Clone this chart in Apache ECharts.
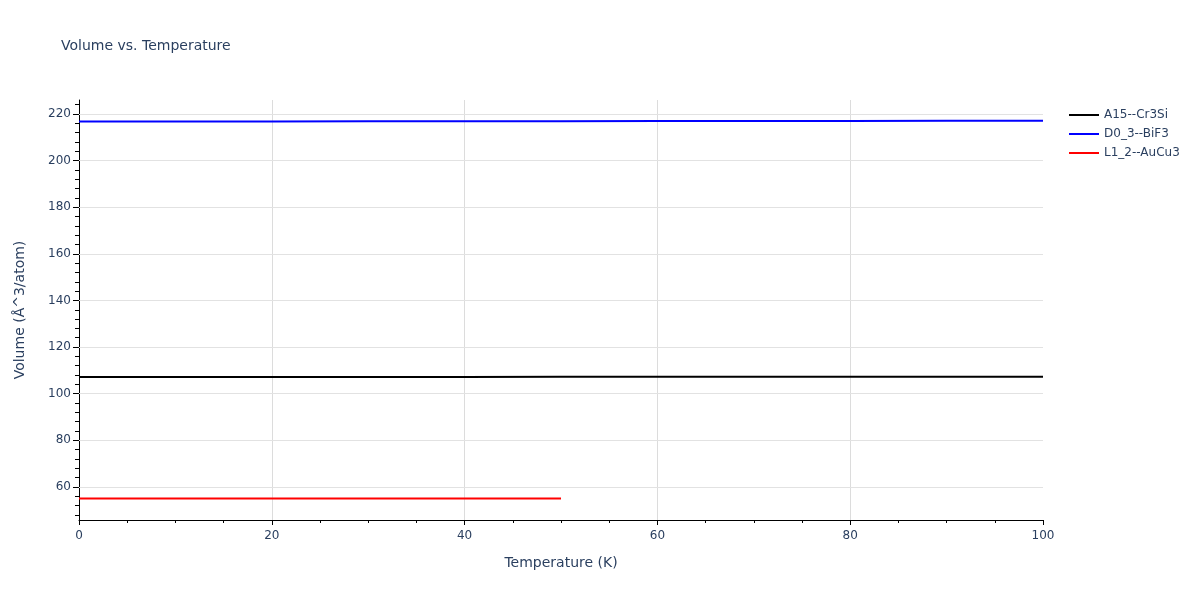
<!DOCTYPE html>
<html>
<head>
<meta charset="utf-8">
<script src="https://cdn.jsdelivr.net/npm/echarts@6/dist/echarts.min.js"></script>
<style>
  html, body { margin: 0; padding: 0; background: #fff; }
  #chart { width: 1200px; height: 600px; }
</style>
</head>
<body>
<div id="chart"></div>
<script>
// values
var temps = [0, 10, 20, 30, 40, 50, 60, 70, 80, 90, 100];
var tempsL12 = [0, 10, 20, 30, 40, 50];
var volA15 = [107.2, 107.2, 107.2, 107.2, 107.2, 107.3, 107.3, 107.3, 107.3, 107.3, 107.3];
var volD03 = [216.8, 216.8, 216.8, 216.9, 216.9, 216.9, 217.0, 217.0, 217.0, 217.1, 217.1];
var volL12 = [55.0, 55.0, 55.0, 55.0, 55.0, 55.0];

var yMajor = [60, 80, 100, 120, 140, 160, 180, 200, 220];
var yMinor = [48, 52, 56, 64, 68, 72, 76, 84, 88, 92, 96, 104, 108, 112, 116, 124, 128, 132, 136,
              144, 148, 152, 156, 164, 168, 172, 176, 184, 188, 192, 196, 204, 208, 212, 216, 224];
var yMin = 45.8, yMax = 226;

var txt = '#2a3f5f';
var font = '"DejaVu Sans", Verdana, sans-serif';
var lineIcon = 'path://M0,0 H30 V2 H0 Z';

function pairs(xs, ys) {
  var out = [];
  for (var i = 0; i < xs.length; i++) out.push([xs[i], ys[i]]);
  return out;
}

var gridLines = yMajor.map(function (v) { return { yAxis: v }; });

var option = {
  backgroundColor: '#fff',
  animation: false,
  textStyle: { fontFamily: font },
  title: {
    text: 'Volume vs. Temperature',
    left: 56, top: 34,
    textStyle: { color: txt, fontSize: 14, fontWeight: 'normal', fontFamily: font }
  },
  legend: {
    orient: 'vertical',
    left: 1064, top: 104,
    itemWidth: 30, itemHeight: 12, itemGap: 7,
    textStyle: { color: txt, fontSize: 12, fontFamily: font },
    data: [
      { name: 'A15--Cr3Si', icon: lineIcon },
      { name: 'D0_3--BiF3', icon: lineIcon },
      { name: 'L1_2--AuCu3', icon: lineIcon }
    ]
  },
  grid: { left: 79, right: 157, top: 100, bottom: 80, containLabel: false },
  xAxis: {
    type: 'value',
    min: 0, max: 100, interval: 20,
    name: 'Temperature (K)',
    nameLocation: 'middle', nameGap: 36,
    nameTextStyle: { color: txt, fontSize: 14, fontFamily: font },
    axisLine: { show: true, onZero: false, lineStyle: { color: '#000', width: 1 } },
    axisTick: { show: true, length: 5, lineStyle: { color: '#000' } },
    minorTick: { show: true, splitNumber: 4, length: 3, lineStyle: { color: '#000' } },
    axisLabel: { color: txt, fontSize: 12, margin: 10, fontFamily: font },
    splitLine: { show: true, showMinLine: false, showMaxLine: false, lineStyle: { color: '#dcdcdc' } }
  },
  yAxis: [{
    type: 'value',
    min: yMin, max: yMax,
    name: 'Volume (Å^3/atom)',
    nameLocation: 'middle', nameGap: 52, nameRotate: 90,
    nameTextStyle: { color: txt, fontSize: 14, fontFamily: font },
    axisLine: { show: true, onZero: false, lineStyle: { color: '#000', width: 1 } },
    axisTick: { show: true, length: 6, customValues: yMajor, lineStyle: { color: '#000' } },
    axisLabel: { color: txt, fontSize: 12, margin: 8, customValues: yMajor, fontFamily: font },
    splitLine: { show: false }
  }, {
    type: 'value',
    min: yMin, max: yMax,
    position: 'left',
    axisLine: { show: false },
    axisTick: { show: true, length: 4, customValues: yMinor, lineStyle: { color: '#000' } },
    axisLabel: { show: false },
    splitLine: { show: false }
  }],
  series: [{
    name: 'A15--Cr3Si',
    type: 'line',
    symbol: 'none',
    lineStyle: { color: '#000', width: 2 },
    itemStyle: { color: '#000' },
    data: pairs(temps, volA15),
    z: 3,
    markLine: {
      silent: true, symbol: 'none', animation: false,
      label: { show: false },
      lineStyle: { color: '#e2e2e2', width: 1, type: 'solid' },
      data: gridLines,
      z: 1
    }
  }, {
    name: 'D0_3--BiF3',
    type: 'line',
    symbol: 'none',
    lineStyle: { color: '#0000ff', width: 2 },
    itemStyle: { color: '#0000ff' },
    data: pairs(temps, volD03),
    z: 3
  }, {
    name: 'L1_2--AuCu3',
    type: 'line',
    symbol: 'none',
    lineStyle: { color: '#ff0000', width: 2 },
    itemStyle: { color: '#ff0000' },
    data: pairs(tempsL12, volL12),
    z: 3
  }]
};

var myChart = echarts.init(document.getElementById('chart'));
myChart.setOption(option);
</script>
</body>
</html>
